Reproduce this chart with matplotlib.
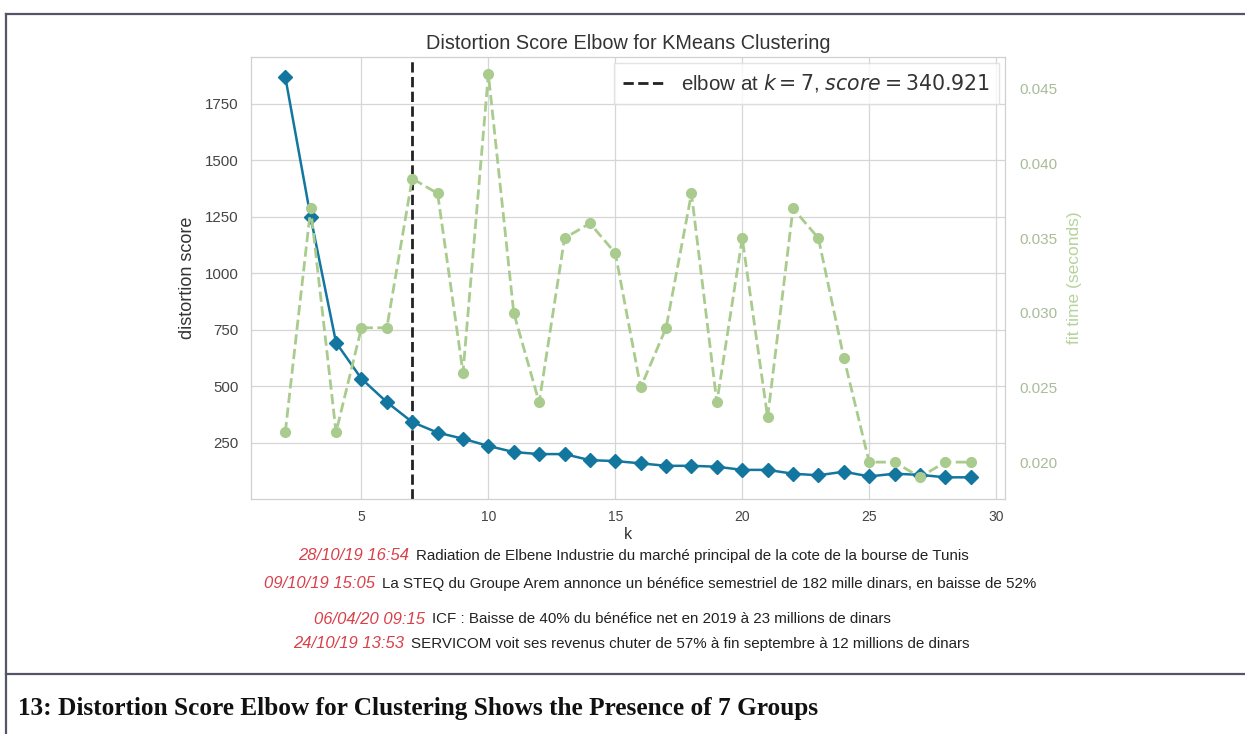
import numpy as np
import matplotlib.pyplot as plt
from matplotlib.lines import Line2D

# Elbow curve for KMeans: k from 2 to 29
k_values = list(range(2, 30))
distortion = [1870, 1248, 693, 533, 429, 340.921, 294, 267, 235, 208,
              199, 199, 172, 168, 158, 147, 147, 143, 129, 129,
              112, 105, 121, 100, 112, 107, 96, 96]
fit_time = [0.022, 0.037, 0.022, 0.029, 0.029, 0.039, 0.038, 0.026, 0.046, 0.030,
            0.024, 0.035, 0.036, 0.034, 0.025, 0.029, 0.038, 0.024, 0.035, 0.023,
            0.037, 0.035, 0.027, 0.020, 0.020, 0.019, 0.020, 0.020]
elbow_k = 7
elbow_score = 340.921

news_dates = ['28/10/19 16:54', '09/10/19 15:05', '06/04/20 09:15', '24/10/19 13:53']
news_items = [
    'Radiation de Elbene Industrie du marché principal de la cote de la bourse de Tunis',
    'La STEQ du Groupe Arem annonce un bénéfice semestriel de 182 mille dinars, en baisse de 52%',
    'ICF : Baisse de 40% du bénéfice net en 2019 à 23 millions de dinars',
    'SERVICOM voit ses revenus chuter de 57% à fin septembre à 12 millions de dinars',
]
caption = '13: Distortion Score Elbow for Clustering Shows the Presence of 7 Groups'

BLUE = '#12769f'
GREEN = '#a9cc8e'
W, H = 1245, 734

plt.rcParams['font.family'] = ['Liberation Sans', 'DejaVu Sans']

fig = plt.figure(figsize=(W / 100, H / 100), dpi=100)


def fx(px):
    return px / W


def fy(py):
    return 1 - py / H


# outer frame with the caption row
frame = dict(color='#55556a', lw=1.6, transform=fig.transFigure)
fig.add_artist(Line2D([fx(6), fx(1245)], [fy(14), fy(14)], **frame))
fig.add_artist(Line2D([fx(6), fx(6)], [fy(14), fy(734)], **frame))
fig.add_artist(Line2D([fx(6), fx(1245)], [fy(674), fy(674)], **frame))

ax = fig.add_axes([fx(251), fy(499), fx(1005) - fx(251), fy(57) - fy(499)])
ax.set_facecolor('white')
for s in ax.spines.values():
    s.set_color('#d0d0d0')
ax.grid(True, color='#d6d6d6', lw=0.9)
ax.set_axisbelow(True)

ax.plot(k_values, distortion, color=BLUE, lw=1.8, marker='D', ms=7, zorder=3)
ax.axvline(elbow_k, color='#222222', ls='--', lw=2,
           label=f'elbow at $k={elbow_k}$, $score={elbow_score:.3f}$')

ax.set_xlim(0.65, 30.35)
ax.set_ylim(0, 1958)
ax.set_xticks([5, 10, 15, 20, 25, 30])
ax.set_yticks([250, 500, 750, 1000, 1250, 1500, 1750])
ax.tick_params(axis='x', length=0, labelsize=10, colors='#444444', pad=8)
ax.tick_params(axis='y', length=0, labelsize=10.8, colors='#444444', pad=9)
ax.set_xlabel('k', fontsize=11.5, color='#333333', labelpad=2)
ax.set_ylabel('distortion score', fontsize=13, color='#333333', labelpad=6)
ax.set_title('Distortion Score Elbow for KMeans Clustering', fontsize=14.3,
             color='#333333', pad=6)

ax2 = ax.twinx()
ax2.plot(k_values, fit_time, color=GREEN, ls='--', lw=2, marker='o', ms=7,
         zorder=2)
ax2.set_ylim(0.01753, 0.04714)
ax2.set_yticks([0.020, 0.025, 0.030, 0.035, 0.040, 0.045])
ax2.set_yticklabels(['0.020', '0.025', '0.030', '0.035', '0.040', '0.045'])
ax2.tick_params(length=0, labelsize=11, colors='#a9bc98', pad=10)
ax2.set_ylabel('fit time (seconds)', fontsize=12.5, color='#b6d39c', labelpad=7)
ax2.grid(False)
for s in ax2.spines.values():
    s.set_color('#d0d0d0')

leg = ax.legend(loc='upper right', fontsize=14.8, frameon=True, handlelength=2.0,
                borderpad=0.45, fancybox=False, borderaxespad=0.3)
leg.get_frame().set_edgecolor('#dddddd')
leg.get_frame().set_linewidth(1)
for t in leg.get_texts():
    t.set_color('#333333')

# news lines under the chart: red italic date, then the headline
split_x = [409, 375, 425, 404]
rows_y = [556, 584, 619, 644]
for date, item, sx, ry in zip(news_dates, news_items, split_x, rows_y):
    fig.text(fx(sx), fy(ry), date, ha='right', va='center', fontsize=12,
             style='italic', color='#d9414a')
    fig.text(fx(sx + 7), fy(ry), item, ha='left', va='center', fontsize=10.9,
             color='#222222')

fig.text(fx(18), fy(708), caption, ha='left', va='center', fontsize=18.2,
         weight='bold', color='#111111', family=['Liberation Serif', 'DejaVu Serif'])

fig.savefig('out.png', dpi=100)
